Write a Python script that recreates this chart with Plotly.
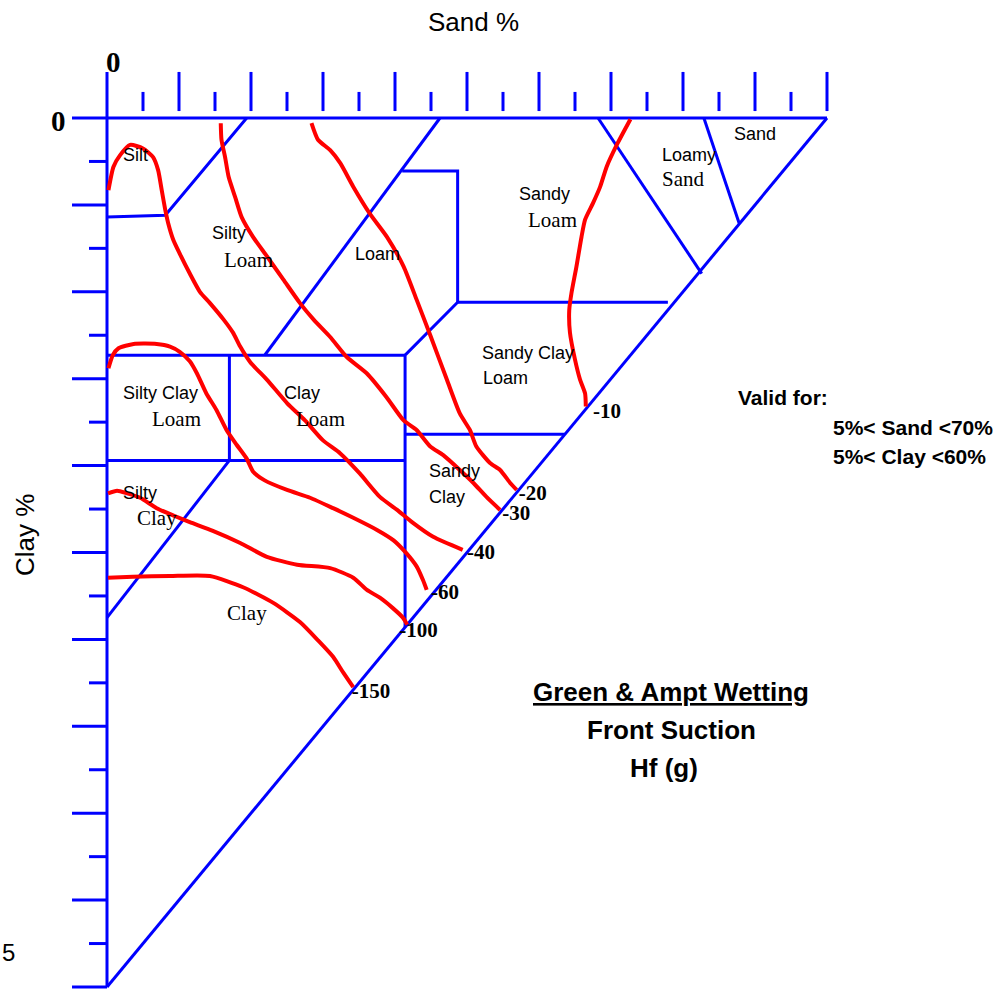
import plotly.graph_objects as go

# texture-class boundaries, (sand %, clay %)
edge_top_sand, edge_top_clay = [0, 100], [0, 0]
edge_left_sand, edge_left_clay = [0, 0], [-5.3, 100]
edge_diag_sand, edge_diag_clay = [100, 0], [0, 100]
silt_sand, silt_clay = [0, 8.1, 19.4], [11.4, 11.2, 0]
siltloam_sand, siltloam_clay = [46.25, 21.9], [0, 27.3]
loam_sand = [41.0, 48.7, 48.7, 77.9]
loam_clay = [6.1, 6.1, 21.2, 21.2]
sandyclay_sand = [48.7, 41.4, 41.4]
sandyclay_clay = [21.2, 27.3, 58.6]
clayloam_top_sand, clayloam_top_clay = [0, 41.4], [27.3, 27.3]
sicl_div_sand, sicl_div_clay = [17.0, 17.0], [27.3, 39.4]
clayloam_bot_sand, clayloam_bot_clay = [0, 41.4], [39.4, 39.4]
siltyclay_sand, siltyclay_clay = [17.0, 0], [39.4, 57.5]
scl_bot_sand, scl_bot_clay = [41.4, 63.6], [36.4, 36.4]
loamysand_sand, loamysand_clay = [68.2, 82.6], [0, 17.9]
sand_sand, sand_clay = [82.9, 87.8], [0, 12.1]

# wetting front suction isolines
hf10_sand = [72.7, 70.8, 69.4, 68.5, 67.5, 66.4, 65.9, 65.2, 64.5, 64.2, 64.3, 65.0, 65.7, 66.4, 66.5]
hf10_clay = [0.15, 3.1, 5.6, 7.9, 9.8, 11.7, 13.7, 17.1, 20.2, 22.1, 24.7, 27.8, 30.1, 31.7, 33.2]
hf20_sand = [28.4, 29.3, 31.0, 32.4, 34.2, 36.5, 38.9, 41.2, 43.0, 44.9, 47.2, 49.0, 50.4, 51.3, 53.2, 54.6, 56.0, 56.9]
hf20_clay = [0.6, 2.5, 3.7, 5.2, 7.9, 11.0, 13.7, 17.1, 20.9, 25.0, 30.1, 34.0, 35.9, 37.8, 39.7, 40.5, 42.0, 42.8]
hf30_sand = [15.8, 15.9, 16.4, 16.9, 17.8, 18.7, 20.3, 22.2, 24.5, 26.8, 28.7, 31.0, 33.3, 36.1, 38.8, 41.2, 43.0, 44.9, 46.7, 49.0, 50.9, 52.7, 54.6]
hf30_clay = [0.6, 2.5, 4.5, 6.8, 9.1, 11.4, 13.7, 15.9, 18.6, 21.3, 23.2, 25.2, 27.5, 29.4, 32.1, 34.8, 35.9, 37.8, 38.8, 40.5, 42.0, 43.6, 45.1]
hf40_sand = [0.2, 0.9, 1.8, 3.2, 5.0, 6.4, 7.1, 7.6, 8.1, 8.5, 9.2, 10.1, 11.5, 12.9, 14.3, 16.2, 17.5, 18.5, 19.9, 22.2, 25.0, 27.5, 30.0, 32.4, 35.1, 37.9, 40.3, 42.5, 45.3, 49.4]
hf40_clay = [8.3, 5.6, 4.3, 3.1, 3.5, 4.5, 6.0, 8.3, 10.6, 12.1, 14.0, 15.6, 17.9, 20.0, 21.3, 23.2, 24.7, 26.3, 28.1, 30.1, 32.8, 34.8, 37.1, 38.6, 40.9, 43.6, 45.1, 46.6, 48.2, 49.7]
hf60_sand = [0.2, 0.8, 1.6, 3.7, 6.9, 8.75, 10.1, 11.5, 12.5, 13.8, 15.2, 16.6, 18.0, 19.4, 20.3, 21.9, 25.0, 28.2, 31.4, 34.2, 37.5, 39.8, 41.6, 43.0, 43.9, 44.4]
hf60_clay = [28.8, 27.3, 26.5, 26.0, 26.0, 26.3, 26.9, 28.0, 29.4, 31.7, 33.6, 35.9, 37.6, 39.2, 40.7, 41.7, 42.8, 43.7, 44.9, 46.0, 47.4, 48.6, 50.1, 51.6, 53.2, 54.3]
hf100_sand = [0.14, 1.4, 2.8, 4.6, 6.9, 9.4, 11.5, 14.7, 18.5, 22.2, 26.4, 31.0, 34.2, 36.1, 37.9, 39.7, 41.1, 41.7]
hf100_clay = [43.2, 42.9, 43.2, 43.7, 44.9, 45.8, 46.5, 47.5, 48.9, 50.5, 51.4, 51.8, 52.9, 54.3, 55.2, 56.4, 57.5, 58.3]
hf150_sand = [0.14, 3.6, 8.75, 14.3, 18.9, 23.1, 26.8, 29.3, 31.4, 32.8, 34.2]
hf150_clay = [52.9, 52.8, 52.7, 52.7, 54.0, 55.8, 58.0, 60.1, 62.0, 63.8, 65.5]

suction_labels = ["-10", "-20", "-30", "-40", "-60", "-100", "-150"]
suction_label_sand = [67.5, 57.2, 54.9, 50.0, 45.0, 40.6, 34.0]
suction_label_clay = [33.9, 43.3, 45.7, 50.1, 54.7, 59.1, 66.1]

# axis ticks every 5 %
tick_values = list(range(0, 101, 5))

# pixel frame: sand 0..100 -> x 107..827, clay 0..100 -> y 118..987
W, H = 1004, 994
X0, XS = 107, 7.2
Y0, YS = 118, 8.69

BLUE = "#0000FF"
RED = "#FF0000"
SANS = "Liberation Sans, Arial, sans-serif"
SERIF = "Liberation Serif, Times New Roman, serif"

fig = go.Figure()

borders = [
    (edge_top_sand, edge_top_clay), (edge_left_sand, edge_left_clay),
    (edge_diag_sand, edge_diag_clay), (silt_sand, silt_clay),
    (siltloam_sand, siltloam_clay), (loam_sand, loam_clay),
    (sandyclay_sand, sandyclay_clay), (clayloam_top_sand, clayloam_top_clay),
    (sicl_div_sand, sicl_div_clay), (clayloam_bot_sand, clayloam_bot_clay),
    (siltyclay_sand, siltyclay_clay), (scl_bot_sand, scl_bot_clay),
    (loamysand_sand, loamysand_clay), (sand_sand, sand_clay),
]
for xs, ys in borders:
    fig.add_trace(go.Scatter(x=xs, y=ys, mode="lines", line=dict(color=BLUE, width=3),
                             hoverinfo="skip", showlegend=False))

# ticks: sand along the top, clay down the left side
tx, ty = [], []
for v in tick_values[1:]:
    long = v % 10 == 0
    tx += [v, v, None]
    ty += [-5.3 if long else -3.0, -0.8, None]
for v in tick_values:
    long = v % 10 == 0
    tx += [-4.86 if long else -2.5, 0, None]
    ty += [v, v, None]
fig.add_trace(go.Scatter(x=tx, y=ty, mode="lines", line=dict(color=BLUE, width=3),
                         hoverinfo="skip", showlegend=False))

curves = [(hf10_sand, hf10_clay), (hf20_sand, hf20_clay), (hf30_sand, hf30_clay),
          (hf40_sand, hf40_clay), (hf60_sand, hf60_clay), (hf100_sand, hf100_clay),
          (hf150_sand, hf150_clay)]
for xs, ys in curves:
    fig.add_trace(go.Scatter(x=xs, y=ys, mode="lines",
                             line=dict(color=RED, width=4, shape="spline", smoothing=0.6),
                             hoverinfo="skip", showlegend=False))

fig.add_trace(go.Scatter(x=suction_label_sand, y=suction_label_clay, mode="text",
                         text=suction_labels, textposition="middle right",
                         textfont=dict(family=SERIF, size=21, color="black", weight="bold"),
                         hoverinfo="skip", showlegend=False))

# texture class names: (text, sand, clay, font)
class_labels = [
    ("Silt", 3.9, 4.3, SANS), ("Silty", 16.9, 13.2, SANS), ("Loam", 19.6, 16.3, SERIF),
    ("Loam", 37.6, 15.65, SANS), ("Sandy", 60.7, 8.75, SANS), ("Loam", 61.9, 11.7, SERIF),
    ("Loamy", 80.8, 4.26, SANS), ("Sand", 80.1, 7.0, SERIF), ("Sand", 90.0, 1.84, SANS),
    ("Sandy Clay", 58.5, 27.0, SANS), ("Loam", 55.3, 29.9, SANS),
    ("Silty Clay", 7.4, 31.6, SANS), ("Loam", 9.6, 34.6, SERIF),
    ("Clay", 27.1, 31.6, SANS), ("Loam", 29.6, 34.6, SERIF),
    ("Sandy", 48.2, 40.6, SANS), ("Clay", 47.2, 43.6, SANS),
    ("Silty", 4.6, 43.2, SANS), ("Clay", 6.9, 46.0, SERIF), ("Clay", 19.4, 57.0, SERIF),
]
annotations = []
for text, sx, cy, fam in class_labels:
    annotations.append(dict(x=sx, y=cy, xref="x", yref="y", text=text, showarrow=False,
                            font=dict(family=fam, size=18 if fam == SANS else 21, color="black")))


def note(text, px, py, size, family=SANS, anchor="center", bold=False, angle=0):
    annotations.append(dict(x=px / W, y=1 - py / H, xref="paper", yref="paper", text=text,
                            showarrow=False, xanchor=anchor, yanchor="middle", textangle=angle,
                            font=dict(family=family, size=size, color="black",
                                      weight="bold" if bold else "normal")))


note("Sand %", 473, 22, 26)
note("Clay %", 25, 535, 26, angle=-90)
note("0", 113, 62, 29, family=SERIF, bold=True)
note("0", 58, 121, 29, family=SERIF, bold=True)
note("5", 0, 952, 24, anchor="left")
note("Valid for:", 736, 397, 21, anchor="left", bold=True)
note("5%< Sand <70%", 831, 427, 21, anchor="left", bold=True)
note("5%< Clay <60%", 831, 457, 21, anchor="left", bold=True)
note("<u>Green & Ampt Wetting</u>", 671, 692, 26, bold=True)
note("Front Suction", 671, 730, 26, bold=True)
note("Hf (g)", 664, 768, 26, bold=True)

fig.update_layout(
    width=W, height=H,
    margin=dict(l=0, r=0, t=0, b=0),
    paper_bgcolor="white", plot_bgcolor="white",
    xaxis=dict(range=[-X0 / XS, (W - X0) / XS], visible=False, fixedrange=True),
    yaxis=dict(range=[(H - Y0) / YS, -Y0 / YS], visible=False, fixedrange=True),
    annotations=annotations,
    showlegend=False,
)

fig.write_html("out.html", config={"displayModeBar": False},
               post_script="document.body.style.margin='0';")
